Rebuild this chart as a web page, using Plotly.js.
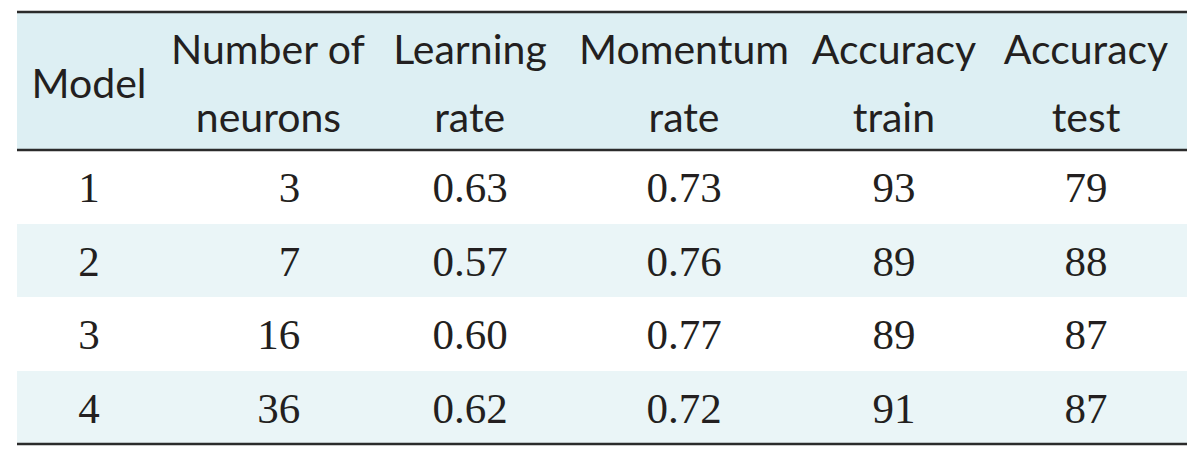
<!DOCTYPE html>
<html><head><meta charset="utf-8">
<script src="https://cdn.plot.ly/plotly-3.0.1.min.js"></script>
<style>html,body{margin:0;padding:0;background:#fff}</style>
</head><body>
<div id="chart" style="width:1200px;height:467px"></div>
<script>
// ---- data ----
const headerLabels = [["Model"], ["Number of", "neurons"], ["Learning", "rate"], ["Momentum", "rate"], ["Accuracy", "train"], ["Accuracy", "test"]];
const models = ["1", "2", "3", "4"];
const neurons = [3, 7, 16, 36];
const learningRate = [0.63, 0.57, 0.60, 0.62];
const momentumRate = [0.73, 0.76, 0.77, 0.72];
const accuracyTrain = [93, 89, 89, 91];
const accuracyTest = [79, 88, 87, 87];

// ---- layout constants ----
const W = 1200, H = 467;
const TOP = 12, HEADER_H = 138, ROW_H = 73.5;
const X0 = 17, X1 = 1187;
const colWidths = [144, 214, 190, 238, 182, 202];
const headerFill = '#DDEFF3';
const stripeFill = '#EAF5F7';
const ink = '#231F20';
const HFAM = 'Lato';
const HF = 41, HA = 45;   // header text size, top anchor size
const BF = 43;            // body text size

const ctx = document.createElement('canvas').getContext('2d');
const measure = (s, px) => { ctx.font = px + 'px ' + HFAM; return ctx.measureText(s).width; };
const span = (s, px) => '<span style="font-size:' + px + 'px">' + s + '</span>';
const NB = '\u00A0';

function padTo(width) {
  // leading non-breaking spaces so a left-aligned line sits centred
  const unit = measure(NB, HF);
  let out = '';
  let n = Math.floor(width / unit);
  for (let i = 0; i < n; i++) out += span(NB, HF);
  const rest = width - n * unit;
  if (rest > 0.3) out += span(NB, (HF * rest / unit).toFixed(2));
  return out;
}

function headerCell(lines) {
  if (lines.length === 1) return span(NB, HA) + '<br>' + span(lines[0], HF);
  const a = measure(NB, HA);
  const w1 = measure(lines[0], HF) + 2 * a;
  const w2 = measure(lines[1], HF);
  const l1 = span(NB, HA) + span(lines[0], HF) + span(NB, HA);
  const l2 = padTo((w1 - w2) / 2) + span(lines[1], HF);
  return l1 + '<br>' + NB + '<br>' + l2;
}
const headerText = headerLabels.map(headerCell);

const cell = s => NB + '<br>' + span(s, BF);

const columns = [
  models.map(v => cell(v)),
  neurons.map(v => cell(String(v).padStart(3, '\u2007'))),
  learningRate.map(v => cell(v.toFixed(2))),
  momentumRate.map(v => cell(v.toFixed(2))),
  accuracyTrain.map(v => cell(String(v))),
  accuracyTest.map(v => cell(String(v)))
];
const rowColors = models.map((_, i) => i % 2 === 0 ? '#FFFFFF' : stripeFill);

const trace = {
  type: 'table',
  domain: {x: [X0 / W, X1 / W], y: [0, 1 - TOP / H]},
  columnwidth: colWidths,
  header: {
    values: headerText,
    align: 'center',
    height: HEADER_H,
    fill: {color: headerFill},
    line: {width: 0, color: 'rgba(0,0,0,0)'},
    font: {family: 'Lato, "Open Sans", sans-serif', size: 26, color: ink}
  },
  cells: {
    values: columns,
    align: 'center',
    height: ROW_H,
    fill: {color: columns.map(() => rowColors)},
    line: {width: 0, color: 'rgba(0,0,0,0)'},
    font: {family: '"Liberation Serif", "Times New Roman", serif', size: 20, color: ink}
  }
};

const yp = px => 1 - px / H;
const hline = px => ({type: 'line', xref: 'paper', yref: 'paper', x0: X0 / W, x1: X1 / W, y0: yp(px), y1: yp(px), line: {color: '#2B2B2B', width: 2.5}});
const tableBottom = TOP + HEADER_H + ROW_H * models.length;

const layout = {
  width: W, height: H,
  margin: {l: 0, r: 0, t: 0, b: 0},
  paper_bgcolor: '#FFFFFF',
  showlegend: false,
  shapes: [hline(TOP), hline(TOP + HEADER_H), hline(tableBottom)]
};

Plotly.newPlot('chart', [trace], layout, {displayModeBar: false, staticPlot: true});
</script>
</body></html>
